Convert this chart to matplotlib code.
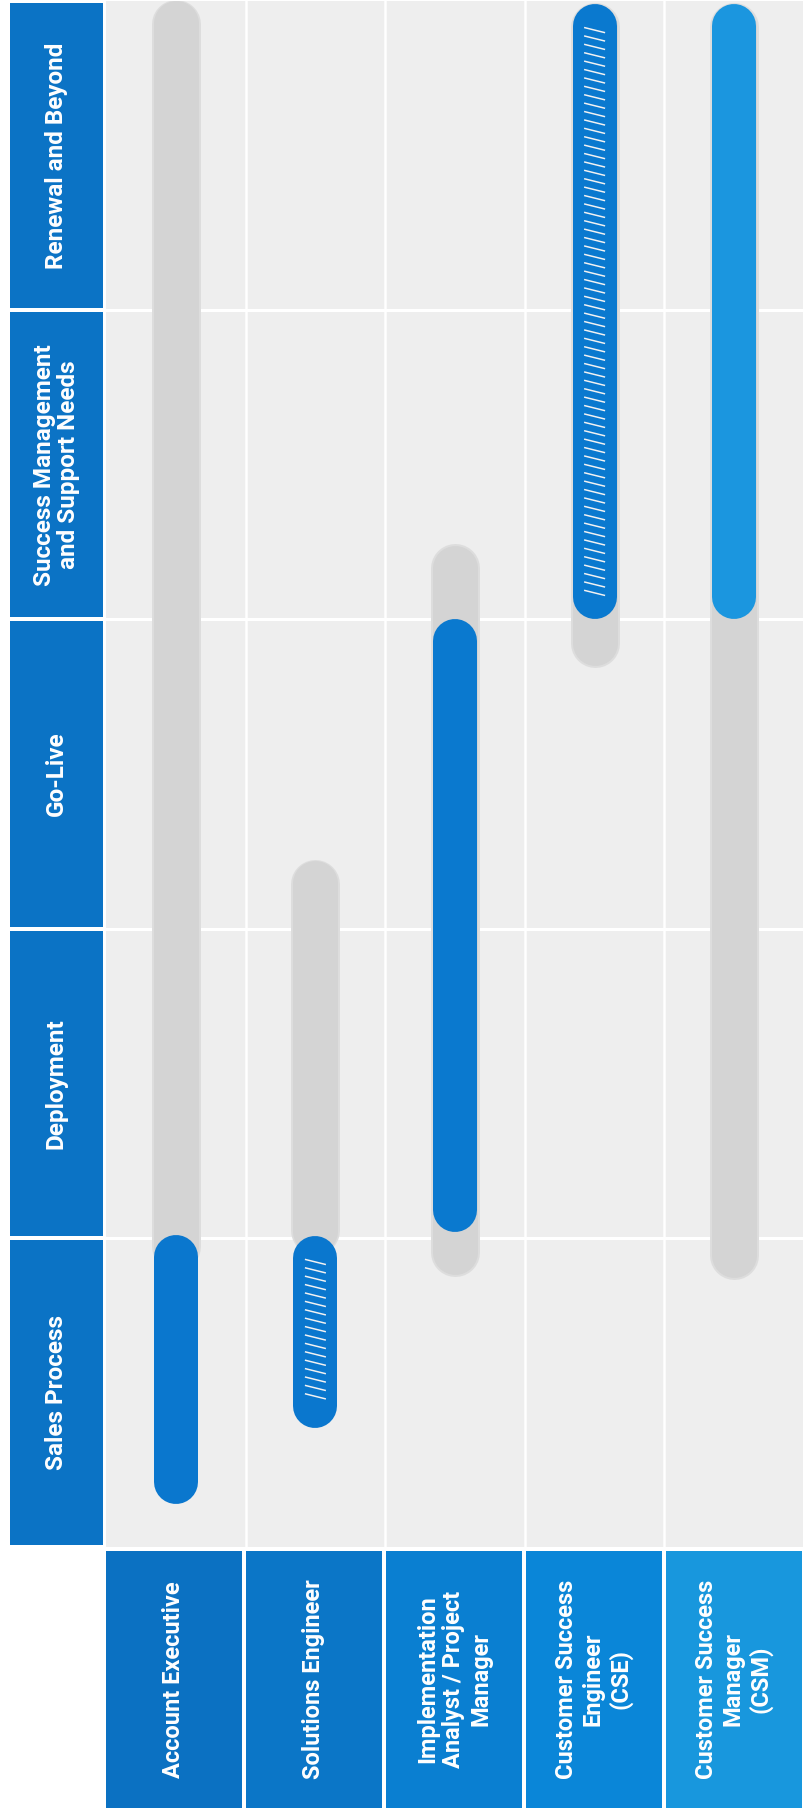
import numpy as np
import matplotlib
matplotlib.use("Agg")
import matplotlib.pyplot as plt
from matplotlib.patches import Rectangle
from matplotlib.collections import LineCollection

plt.rcParams['font.family'] = ['Roboto', 'DejaVu Sans']

# ---------------- data ----------------
phases = ["Sales Process", "Deployment", "Go-Live",
          "Success Management\nand Support Needs", "Renewal and Beyond"]
roles = ["Account Executive", "Solutions Engineer",
         "Implementation\nAnalyst / Project\nManager",
         "Customer Success\nEngineer\n(CSE)",
         "Customer Success\nManager\n(CSM)"]
# timeline position in phase units (0 = start of Sales Process)
gray_start = [0.90, 0.95, 0.88, 2.85, 0.87]
gray_end = [5.00, 2.22, 3.24, 4.99, 4.99]
blue_start = [0.14, 0.385, 1.02, 3.00, 3.00]
blue_end = [1.01, 1.006, 3.00, 4.99, 4.99]
hatched = [False, True, False, True, False]
blue_colors = ["#0a77ce", "#0a77ce", "#0a79cf", "#0a79cf", "#1b96df"]
role_box_colors = ["#0b71c2", "#0b76c7", "#0a7fd1", "#0a86d8", "#1897dd"]
header_color = "#0b73c5"

# ---------------- layout ----------------
W, H = 804, 1814
DPI = 100
fig = plt.figure(figsize=(W / DPI, H / DPI), dpi=DPI)
fig.patch.set_facecolor("white")

def px_axes(x0, y0, x1, y1):
    return fig.add_axes([x0 / W, 1 - y1 / H, (x1 - x0) / W, (y1 - y0) / H])

GX0, GX1, GY0, GY1 = 106, 804, 1, 1547
ax = px_axes(GX0, GY0, GX1, GY1)
ax_h = px_axes(10, GY0, 103, GY1)
ax_r = px_axes(104, 1551, 804, 1808)

n_roles = len(roles)
n_ph = len(phases)
ppu = (GY1 - GY0) / n_ph          # pixels per phase unit (vertical)
ppx = (GX1 - GX0) / n_roles       # pixels per role column

# grid area
ax.set_xlim(0, n_roles)
ax.set_ylim(0, n_ph)
ax.axis("off")
ax.add_patch(Rectangle((0, 0), n_roles, n_ph, facecolor="#eeeeee",
                       edgecolor="none", zorder=0))
for k in range(1, n_ph):
    ax.axhline(k, color="white", lw=3.0 * 72 / DPI, zorder=1)
for k in range(1, n_roles):
    ax.axvline(k, color="white", lw=2.5 * 72 / DPI, zorder=1)

def capsule(xc, t0, t1, width_px, color, z, alpha=1.0):
    r = (width_px / 2) / ppu
    ax.plot([xc, xc], [t0 + r, t1 - r], color=color,
            lw=width_px * 72 / DPI, solid_capstyle="round",
            zorder=z, alpha=alpha)

for i in range(n_roles):
    xc = i + 0.5
    # soft gray bar
    capsule(xc, gray_start[i] - 1.5 / ppu, gray_end[i] + 1.5 / ppu, 49,
            "#dddddd", 2)
    capsule(xc, gray_start[i], gray_end[i], 45, "#d4d4d4", 3)
    # blue bar
    capsule(xc, blue_start[i], blue_end[i], 44, blue_colors[i], 4)
    if hatched[i]:
        inset = 26 / ppu
        step = 8.4 / ppu
        ys = np.arange(blue_end[i] - inset, blue_start[i] + inset - 1e-9, -step)
        dx = 10.5 / ppx
        dy = 2.6 / ppu
        segs = [[(xc - dx, y + dy), (xc + dx, y - dy)] for y in ys]
        ax.add_collection(LineCollection(segs, colors="#f2f2f2",
                                         linewidths=1.5 * 72 / DPI, zorder=5))

# phase header column
ax_h.set_xlim(0, 1)
ax_h.set_ylim(0, n_ph)
ax_h.axis("off")
gap_h = 2.0 / ppu
for k, name in enumerate(phases):
    ax_h.add_patch(Rectangle((0, k + gap_h), 1, 1 - 2 * gap_h,
                             facecolor=header_color, edgecolor="none"))
    ax_h.text(0.5, k + 0.5, name, rotation=90, ha="center", va="center",
              color="white", fontsize=17.5, fontweight="bold",
              linespacing=1.1, multialignment="center",
              rotation_mode="anchor")

# role label row
ax_r.set_xlim(0, n_roles)
ax_r.set_ylim(0, 1)
ax_r.axis("off")
gap_r = 1.5 / ppx
for i, name in enumerate(roles):
    ax_r.add_patch(Rectangle((i + gap_r, 0), 1 - 2 * gap_r, 1,
                             facecolor=role_box_colors[i], edgecolor="none"))
    ax_r.text(i + 0.5, 0.5, name, rotation=90, ha="center", va="center",
              color="white", fontsize=17, fontweight="bold",
              linespacing=1.2, multialignment="center",
              rotation_mode="anchor")

fig.savefig("out.png", dpi=DPI, facecolor="white")
